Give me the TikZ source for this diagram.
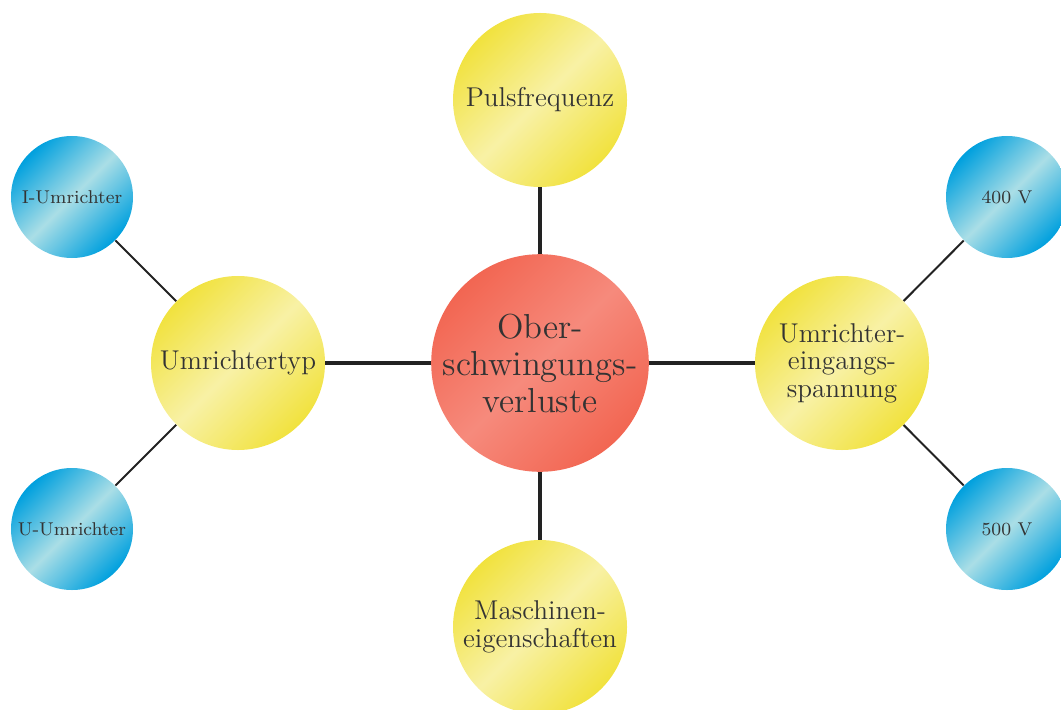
\documentclass[tikz,border=0pt]{standalone}
\usetikzlibrary{shadings}
\definecolor{ydark}{RGB}{241,226,62}
\definecolor{ylight}{RGB}{248,241,165}
\definecolor{bdark}{RGB}{0,160,222}
\definecolor{blight}{RGB}{170,222,230}
\definecolor{rdark}{RGB}{242,102,82}
\definecolor{rlight}{RGB}{246,138,124}
\definecolor{txt}{RGB}{51,51,51}
\definecolor{lin}{RGB}{34,34,34}
\pgfdeclareverticalshading{yshade}{100bp}{color(0bp)=(ydark); color(25bp)=(ydark); color(50bp)=(ylight); color(75bp)=(ydark); color(100bp)=(ydark)}
\pgfdeclareverticalshading{bshade}{100bp}{color(0bp)=(bdark); color(25bp)=(bdark); color(50bp)=(blight); color(75bp)=(bdark); color(100bp)=(bdark)}
\pgfdeclareverticalshading{rshade}{100bp}{color(0bp)=(rdark); color(25bp)=(rdark); color(50bp)=(rlight); color(75bp)=(rdark); color(100bp)=(rdark)}
\tikzset{
  bubble/.style={circle, inner sep=0pt, align=center, text=txt},
  rootnode/.style={bubble, minimum size=3.24cm, shading=rshade, shading angle=45, font=\fontsize{14.8}{15.8}\selectfont},
  mainnode/.style={bubble, minimum size=2.61cm, shading=yshade, shading angle=45, font=\fontsize{11.6}{11.8}\selectfont},
  leafnode/.style={bubble, minimum size=1.83cm, shading=bshade, shading angle=45, font=\fontsize{7.9}{9}\selectfont},
  mainline/.style={draw=lin, line width=1.3pt},
  leafline/.style={draw=lin, line width=0.85pt}
}
\begin{document}
\begin{tikzpicture}[x=0.015cm,y=-0.015cm]
\useasboundingbox (0,0) rectangle (1061,709);
\begin{scope}
\clip (0,0) rectangle (1061,709);
\node[rootnode, shade] (root) at (540,363) {Ober-\\schwingungs-\\verluste};
\node[mainnode, shade] (puls) at (540,100) {Pulsfrequenz};
\node[mainnode, shade] (masch) at (540,627) {Maschinen-\\eigenschaften};
\node[mainnode, shade] (typ) at (238,363) {Umrichtertyp};
\node[mainnode, shade] (spann) at (842,363) {Umrichter-\\eingangs-\\spannung};
\node[leafnode, shade] (iu) at (72,197) {I-Umrichter};
\node[leafnode, shade] (uu) at (72,529) {U-Umrichter};
\node[leafnode, shade] (v4) at (1007,197) {400 V};
\node[leafnode, shade] (v5) at (1007,529) {500 V};
\path[mainline] (root) -- (puls);
\path[mainline] (root) -- (masch);
\path[mainline] (root) -- (typ);
\path[mainline] (root) -- (spann);
\path[leafline] (typ) -- (iu);
\path[leafline] (typ) -- (uu);
\path[leafline] (spann) -- (v4);
\path[leafline] (spann) -- (v5);
\end{scope}
\end{tikzpicture}
\end{document}
